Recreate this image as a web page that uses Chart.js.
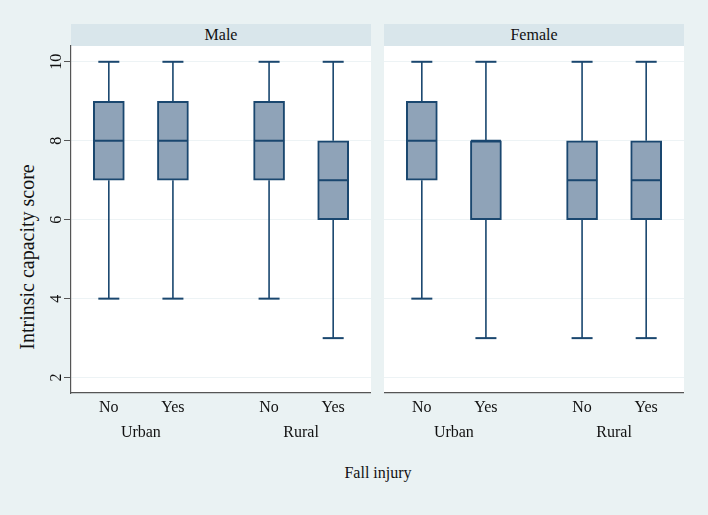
<!DOCTYPE html>
<html>
<head>
<meta charset="utf-8">
<script src="https://cdn.jsdelivr.net/npm/chart.js@4.4.1/dist/chart.umd.min.js"></script>
<style>
  html, body { margin: 0; padding: 0; }
  body { width: 708px; height: 515px; background: #eaf2f3; position: relative; overflow: hidden;
         font-family: 'Liberation Serif', 'Times New Roman', serif; color: #111; }
  canvas { position: absolute; top: 0; }
  .strip { position: absolute; top: 24px; height: 22px; width: 300px; background: #d9e6eb;
           text-align: center; font-size: 16px; line-height: 22px; }
  .ytitle { position: absolute; left: 27px; top: 257px; transform: translate(-50%, -50%) rotate(-90deg);
            font-size: 20px; white-space: nowrap; }
  .xtitle { position: absolute; left: 378px; top: 463px; transform: translateX(-50%);
            font-size: 16px; line-height: 20px; white-space: nowrap; }
</style>
</head>
<body>
<div class="strip" style="left:71px">Male</div>
<div class="strip" style="left:384px">Female</div>
<div class="ytitle">Intrinsic capacity score</div>
<div class="xtitle">Fall injury</div>
<canvas id="male" width="371" height="515" style="left:0"></canvas>
<canvas id="female" width="300" height="515" style="left:384px"></canvas>
<script>
// slots: No/Yes within Urban, then No/Yes within Rural
const slots = [1, 2, 3.5, 4.5];
const fallLabels = ["No", "Yes", "No", "Yes"];
const areaSlots = [1.5, 4];
const areaLabels = ["Urban", "Rural"];
const yTicks = [2, 4, 6, 8, 10];

// box stats per panel: min, q1, median, q3, max
const maleMin = [4, 4, 4, 3];
const maleQ1 = [7, 7, 7, 6];
const maleMed = [8, 8, 8, 7];
const maleQ3 = [9, 9, 9, 8];
const maleMax = [10, 10, 10, 10];

const femaleMin = [4, 3, 3, 3];
const femaleQ1 = [7, 6, 6, 6];
const femaleMed = [8, 8, 7, 7];
const femaleQ3 = [9, 8, 8, 8];
const femaleMax = [10, 10, 10, 10];

const navy = "#1a476f";
const boxFill = "#8fa3b8";
const gridCol = "#edf3f5";
const axisCol = "#555";

Chart.defaults.font.family = "'Liberation Serif', 'Times New Roman', serif";
Chart.defaults.font.size = 16;
Chart.defaults.color = "#111";

const whitePlot = {
  id: "whitePlot",
  beforeDraw(chart) {
    const a = chart.chartArea, ctx = chart.ctx;
    ctx.save();
    ctx.fillStyle = "#fff";
    ctx.fillRect(a.left, a.top, a.right - a.left, a.bottom - a.top);
    ctx.restore();
  }
};

// y tick labels turned like the original
const yLabels = {
  id: "yLabels",
  afterDraw(chart) {
    const y = chart.scales.y, ctx = chart.ctx;
    ctx.save();
    ctx.fillStyle = "#111";
    ctx.font = "16px 'Liberation Serif', serif";
    ctx.textAlign = "center";
    ctx.textBaseline = "middle";
    yTicks.forEach(v => {
      ctx.save();
      ctx.translate(56.5, y.getPixelForValue(v));
      ctx.rotate(-Math.PI / 2);
      ctx.fillText(String(v), 0, 0);
      ctx.restore();
    });
    ctx.restore();
  }
};

function makePanel(id, mins, q1, med, q3, maxs, showY) {
  const whiskers = [];
  slots.forEach((x, i) => {
    whiskers.push({ x, y: q3[i] }, { x, y: maxs[i] }, { x, y: null });
    whiskers.push({ x, y: mins[i] }, { x, y: q1[i] }, { x, y: null });
  });
  const caps = [];
  slots.forEach((x, i) => { caps.push({ x, y: mins[i] }, { x, y: maxs[i] }); });

  return new Chart(document.getElementById(id), {
    type: "bar",
    plugins: showY ? [whitePlot, yLabels] : [whitePlot],
    data: {
      datasets: [
        {
          type: "line",
          data: whiskers,
          borderColor: navy,
          borderWidth: 1.6,
          pointRadius: 0,
          spanGaps: false,
          order: 3,
        },
        {
          type: "line",
          data: caps,
          showLine: false,
          pointStyle: "line",
          pointRadius: 10.5,
          pointBorderWidth: 2,
          pointBorderColor: navy,
          order: 2,
        },
        {
          type: "bar",
          data: slots.map((x, i) => ({ x, y: [q1[i], q3[i]] })),
          backgroundColor: boxFill,
          borderColor: navy,
          borderWidth: 2,
          borderSkipped: false,
          barThickness: 31,
          order: 1,
        },
        {
          type: "line",
          data: slots.map((x, i) => ({ x, y: med[i] })),
          showLine: false,
          pointStyle: "line",
          pointRadius: 15,
          pointBorderWidth: 2,
          pointBorderColor: navy,
          order: 0,
        },
      ],
    },
    options: {
      responsive: false,
      devicePixelRatio: 1,
      animation: false,
      events: [],
      layout: { autoPadding: false, padding: { top: 46, bottom: 66, left: 0, right: 0 } },
      plugins: { legend: { display: false }, tooltip: { enabled: false } },
      scales: {
        x: {
          type: "linear",
          min: 0.41,
          max: 5.09,
          offset: false,
          position: "bottom",
          weight: 0,
          grid: { display: false, drawTicks: false },
          border: { display: true, color: axisCol, width: 1.2 },
          afterBuildTicks: s => { s.ticks = slots.map(v => ({ value: v })); },
          ticks: { padding: 5, autoSkip: false, maxRotation: 0, callback: (v, i) => fallLabels[i] },
          afterFit: s => { s.height = 26; },
        },
        x2: {
          type: "linear",
          min: 0.41,
          max: 5.09,
          offset: false,
          position: "bottom",
          weight: 1,
          grid: { display: false, drawTicks: false },
          border: { display: false },
          afterBuildTicks: s => { s.ticks = areaSlots.map(v => ({ value: v })); },
          ticks: { padding: 4, autoSkip: false, maxRotation: 0, callback: (v, i) => areaLabels[i] },
          afterFit: s => { s.height = 30; },
        },
        y: {
          type: "linear",
          min: 1.61,
          max: 10.4,
          afterBuildTicks: s => { s.ticks = yTicks.map(v => ({ value: v })); },
          ticks: { display: false },
          grid: { color: gridCol, drawTicks: showY, tickLength: 7, tickColor: axisCol },
          border: { display: showY, color: axisCol, width: 1.2 },
          afterFit: s => { s.width = showY ? 71 : 0; },
        },
      },
    },
  });
}

makePanel("male", maleMin, maleQ1, maleMed, maleQ3, maleMax, true);
makePanel("female", femaleMin, femaleQ1, femaleMed, femaleQ3, femaleMax, false);
</script>
</body>
</html>
